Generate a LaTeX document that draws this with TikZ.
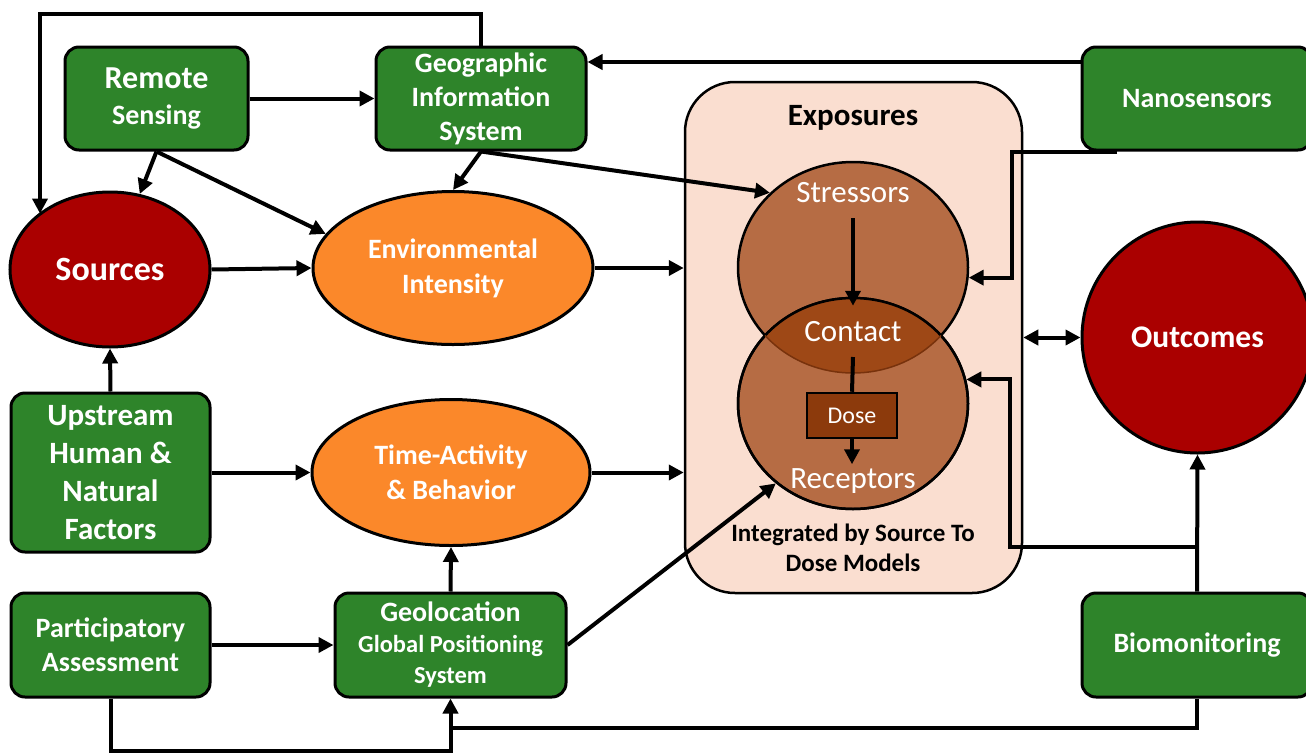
\documentclass[tikz,border=0pt]{standalone}
\usepackage{fontspec}
\setmainfont{Carlito}
\usetikzlibrary{arrows.meta,shapes.geometric}
\definecolor{boxgreen}{RGB}{46,132,42}
\definecolor{srcred}{RGB}{170,0,0}
\definecolor{envorange}{RGB}{251,136,42}
\definecolor{peach}{RGB}{250,222,208}
\definecolor{circbrown}{RGB}{182,108,68}
\definecolor{overlapbrown}{RGB}{158,72,22}
\definecolor{overlapedge}{RGB}{120,50,12}
\definecolor{dosebrown}{RGB}{140,58,12}
\newcommand\fsz[2]{\fontsize{#1}{#2}\selectfont}
\begin{document}
\begin{tikzpicture}[x=1pt,y=-1pt,
  ln/.style={line width=4pt},
  arr/.style={ln,-{Triangle[length=15pt,width=15pt]}},
  arrb/.style={ln,{Triangle[length=15pt,width=15pt]}-{Triangle[length=15pt,width=15pt]}},
  gbox/.style={draw,line width=3pt,rounded corners=14pt,fill=boxgreen,text=white,
               align=center,inner sep=0pt},
  oval/.style={ellipse,draw,line width=3pt,text=white,align=center,inner sep=0pt},
  venn/.style={ellipse,draw,line width=2.5pt,fill=circbrown,minimum width=230pt,
               minimum height=211pt,inner sep=0pt},
  vlabel/.style={text=white,font=\fsz{31}{36},inner sep=0pt},
]
\useasboundingbox (0,0) rectangle (1306,753);

% exposure frame
\node[draw,line width=2.5pt,fill=peach,rounded corners=50pt,minimum width=337pt,
      minimum height=511pt] (exp) at (853.5,337.5) {};
\node[font=\bfseries\fsz{31}{36},inner sep=0pt] (expt) at (853,118) {Exposures};
\node[font=\bfseries\fsz{25}{30},align=center,inner sep=0pt] (integ) at (853,548)
  {Integrated by Source To\\Dose Models};

% stressor / receptor circles with the contact overlap
\node[venn] (str) at (853,267.5) {};
\node[venn] (rec) at (853,403.5) {};
\begin{scope}
  \clip (853,267.5) ellipse [x radius=115pt,y radius=105.5pt];
  \fill[overlapbrown] (853,403.5) ellipse [x radius=115pt,y radius=105.5pt];
\end{scope}
\draw[line width=2.5pt] (853,403.5) ellipse [x radius=115pt,y radius=105.5pt];
\begin{scope}
  \clip (853,403.5) ellipse [x radius=115pt,y radius=105.5pt];
  \draw[line width=1.5pt,overlapedge] (853,267.5) ellipse [x radius=115pt,y radius=105.5pt];
\end{scope}
\node[vlabel] (tstr) at (853,193) {Stressors};
\node[vlabel] (tcon) at (853,332) {Contact};
\node[vlabel] (trec) at (853,481) {Receptors};
\node[draw,line width=2.5pt,fill=dosebrown,minimum width=90pt,minimum height=45pt,
      inner sep=0pt,text=white,font=\fsz{24}{28}] (dose) at (852,415.5) {Dose};
\draw[arr] ([yshift=-25pt]tstr.center) -- ([yshift=-9pt]rec.north);
\draw[ln] ([yshift=-25pt]tcon.center) -- (dose.north);
\draw[arr] (dose.south) -- ([yshift=-25pt]dose.south);

% green data boxes
\node[gbox,font=\bfseries\fsz{28}{36},minimum width=183pt,minimum height=103pt] (rs) at (156.5,98.5)
  {\fsz{32}{36}Remote\\Sensing};
\node[gbox,font=\bfseries\fsz{28}{34},minimum width=210pt,minimum height=103pt] (geo) at (481,98.5)
  {Geographic\\Information\\System};
\node[gbox,font=\bfseries\fsz{28}{34},minimum width=230pt,minimum height=103pt] (nano) at (1197,98.5)
  {Nanosensors};
\node[gbox,font=\bfseries\fsz{31}{38},minimum width=199pt,minimum height=159pt] (up) at (110.5,472.5)
  {Upstream\\Human \&\\Natural\\Factors};
\node[gbox,font=\bfseries\fsz{28}{34},minimum width=199pt,minimum height=104pt] (part) at (110.5,645)
  {Participatory\\Assessment};
\node[gbox,font=\bfseries\fsz{24.5}{31},minimum width=231pt,minimum height=104pt] (geol) at (450.5,645)
  {\fsz{28}{31}Geolocation\\Global Positioning\\System};
\node[gbox,font=\bfseries\fsz{28}{34},minimum width=230pt,minimum height=104pt] (bio) at (1197,645)
  {Biomonitoring};

% ovals
\node[oval,font=\bfseries\fsz{34}{40},fill=srcred,minimum width=200pt,minimum height=155pt] (src) at (110,269.5)
  {Sources};
\node[oval,font=\bfseries\fsz{28}{35},fill=envorange,minimum width=280pt,minimum height=153pt] (env) at (453,268)
  {Environmental\\Intensity};
\node[oval,font=\bfseries\fsz{28}{35},fill=envorange,minimum width=278pt,minimum height=146pt] (time) at (451,472.5)
  {Time-Activity\\\& Behavior};
\node[oval,font=\bfseries\fsz{31.5}{38},fill=srcred,minimum width=231pt,minimum height=231pt] (out) at (1197.5,337.5)
  {Outcomes};

% routing points
\coordinate (tl) at (40,14);
\coordinate (nk) at (1012,0);
\coordinate (bj) at (1197,547);
\coordinate (bk) at (1010,0);
\coordinate (yb) at (0,728);
\coordinate (yp) at (0,751);

% connectors
\draw[arr] (rs) -- (geo);
\draw[arr] (rs.south) -- (src);
\draw[arr] (rs.south) -- (env.165);
\draw[arr] (geo.south) -- (env.north);
\draw[arr] (geo.south) -- (str.138);
\draw[arr] (geo.north) |- (tl) -- (tl |- src.142);
\draw[arr] ([yshift=36.5pt]nano.west) -- ([yshift=36.5pt]geo.east);
\draw[arr] ([xshift=-80pt]nano.south) -| (nk |- str.-5) -- (str.-5);
\draw[arr] (src.east) -- (env.west);
\draw[arr] (env.east) -- (exp.west |- env.east);
\draw[arr] (up.north) -- (src.south);
\draw[arr] (up.east) -- (time.west);
\draw[arr] (time.east) -- (exp.west |- time.east);
\draw[arr] (part.east) -- (geol.west);
\draw[arr] (geol.north) -- (time.south);
\draw[arr] (geol.east) -- (rec.226);
\draw[arrb] (exp.east |- out.west) -- (out.west);
\draw[arr] (bio.north) -- (out.south);
\draw[arr] (bj) -| (bk |- rec.12) -- (rec.12);
\draw[arr] (bio.south) |- (yb -| geol.south) -- (geol.south);
\draw[ln] (part.south) |- (yp -| geol.south) -- (yb -| geol.south);
\end{tikzpicture}
\end{document}
